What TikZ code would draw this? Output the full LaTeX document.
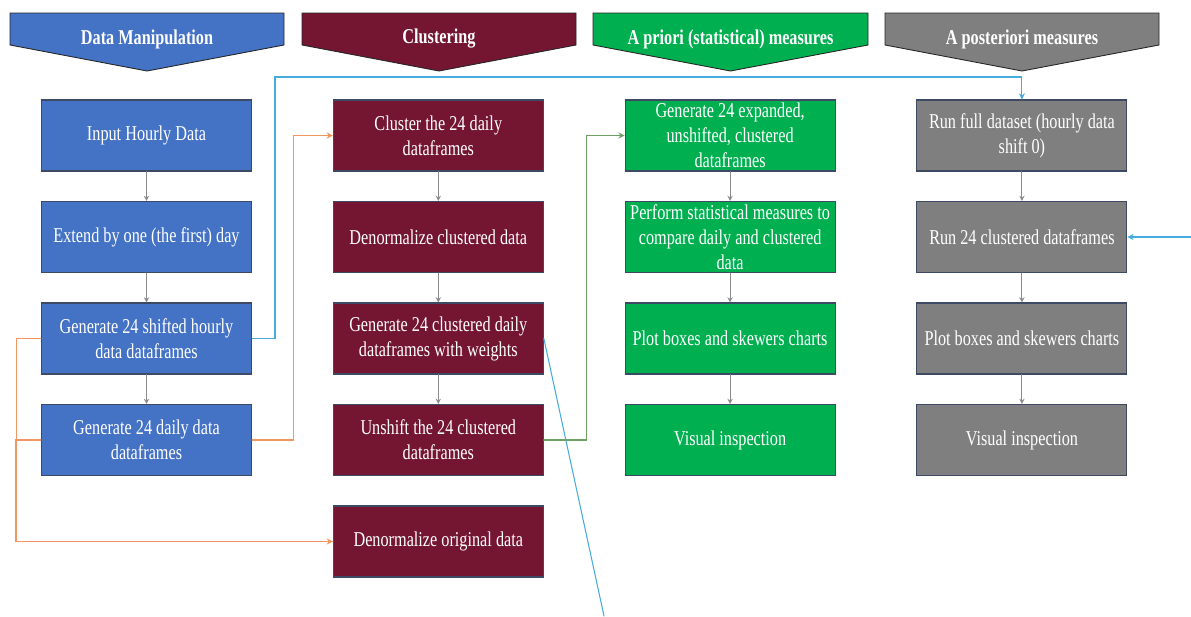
\documentclass[tikz,border=0pt]{standalone}
\usepackage{fontspec}
\setmainfont{Liberation Serif}[FakeStretch=0.77]
\usetikzlibrary{arrows.meta}
\definecolor{dmblue}{RGB}{68,114,196}
\definecolor{clmaroon}{RGB}{116,22,50}
\definecolor{apgreen}{RGB}{0,176,80}
\definecolor{pmgray}{RGB}{127,127,127}
\definecolor{boxedge}{RGB}{62,74,100}
\definecolor{linkblue}{RGB}{70,172,222}
\definecolor{linkorange}{RGB}{242,150,95}
\definecolor{linkgreen}{RGB}{110,160,100}
\tikzset{
	stepbox/.style={draw=boxedge,line width=0.6pt,minimum width=4.2cm,minimum height=1.42cm,inner sep=0pt,
		text=white,align=center,font=\fontsize{12}{14.2}\selectfont},
	dmbox/.style={stepbox,fill=dmblue},
	clbox/.style={stepbox,fill=clmaroon},
	apbox/.style={stepbox,fill=apgreen},
	pmbox/.style={stepbox,fill=pmgray},
	hdr/.style={draw=black!85,line width=0.5pt,line join=miter},
	hdrtext/.style={text=white,font=\fontsize{12}{14.2}\selectfont\bfseries},
	flow/.style={-{Stealth[length=3pt,width=3pt]},draw=black!45,line width=0.5pt},
	link/.style={-{Stealth[length=3.5pt,width=3.5pt]},line width=0.6pt}
}
\begin{document}
\begin{tikzpicture}[line cap=round]
	\useasboundingbox (0,0) rectangle (23.82,-12.32);
	% headers
	\draw[hdr,fill=dmblue] (0.2,-0.26)--(5.68,-0.26)--(5.68,-0.9)--(2.94,-1.42)--(0.2,-0.9)--cycle;
	\node[hdrtext] (hdm) at (2.94,-0.78) {Data Manipulation};
	\draw[hdr,fill=clmaroon] (6.04,-0.26)--(11.52,-0.26)--(11.52,-0.9)--(8.78,-1.42)--(6.04,-0.9)--cycle;
	\node[hdrtext] (hcl) at (8.78,-0.78) {Clustering};
	\draw[hdr,fill=apgreen] (11.86,-0.26)--(17.36,-0.26)--(17.36,-0.9)--(14.61,-1.42)--(11.86,-0.9)--cycle;
	\node[hdrtext] (hap) at (14.61,-0.78) {A priori (statistical) measures};
	\draw[hdr,fill=pmgray] (17.7,-0.26)--(23.18,-0.26)--(23.18,-0.9)--(20.44,-1.42)--(17.7,-0.9)--cycle;
	\node[hdrtext] (hpm) at (20.44,-0.78) {A posteriori measures};
	% data manipulation
	\node[dmbox] (dm1) at (2.93,-2.71) {Input Hourly Data};
	\node[dmbox] (dm2) at (2.93,-4.74) {Extend by one (the first) day};
	\node[dmbox] (dm3) at (2.93,-6.77) {Generate 24 shifted hourly\\data dataframes};
	\node[dmbox] (dm4) at (2.93,-8.80) {Generate 24 daily data\\dataframes};
	% clustering
	\node[clbox] (cl1) at (8.766,-2.71) {Cluster the 24 daily\\dataframes};
	\node[clbox] (cl2) at (8.766,-4.74) {Denormalize clustered data};
	\node[clbox] (cl3) at (8.766,-6.77) {Generate 24 clustered daily\\dataframes with weights};
	\node[clbox] (cl4) at (8.766,-8.80) {Unshift the 24 clustered\\dataframes};
	\node[clbox] (cl5) at (8.766,-10.83) {Denormalize original data};
	% a priori
	\node[apbox] (ap1) at (14.602,-2.71) {Generate 24 expanded,\\unshifted, clustered\\dataframes};
	\node[apbox] (ap2) at (14.602,-4.74) {Perform statistical measures to\\compare daily and clustered\\data};
	\node[apbox] (ap3) at (14.602,-6.77) {Plot boxes and skewers charts};
	\node[apbox] (ap4) at (14.602,-8.80) {Visual inspection};
	% a posteriori
	\node[pmbox] (pm1) at (20.438,-2.71) {Run full dataset (hourly data\\shift 0)};
	\node[pmbox] (pm2) at (20.438,-4.74) {Run 24 clustered dataframes};
	\node[pmbox] (pm3) at (20.438,-6.77) {Plot boxes and skewers charts};
	\node[pmbox] (pm4) at (20.438,-8.80) {Visual inspection};
	% column flows
	\foreach \c in {dm,cl,ap,pm}
		\foreach \a/\b in {1/2,2/3,3/4}
			\draw[flow] (\c\a.south) -- (\c\b.north);
	% links between columns
	\coordinate (bluebend) at (5.5,-1.54);
	\draw[link,draw=linkblue] (dm3.east) -| (bluebend) -| (pm1.north);
	\draw[link,draw=linkorange] (dm4.east) -- ++(0.83,0) |- (cl1.west);
	\draw[link,draw=linkorange] (dm3.west) -- ++(-0.49,0) |- (cl5.west);
	\draw[line width=0.6pt,draw=linkorange] (dm4.west) -- ++(-0.5,0) |- (cl5.west);
	\draw[link,draw=linkgreen] (cl4.east) -- ++(0.854,0) |- (ap1.west);
	\coordinate (lost) at (12.08,-12.32);
	\draw[line width=0.6pt,draw=linkblue] (cl3.east) -- (lost);
	\coordinate (feed) at (23.82,-4.74);
	\draw[link,draw=linkblue] (feed) -- (pm2.east);
\end{tikzpicture}
\end{document}
